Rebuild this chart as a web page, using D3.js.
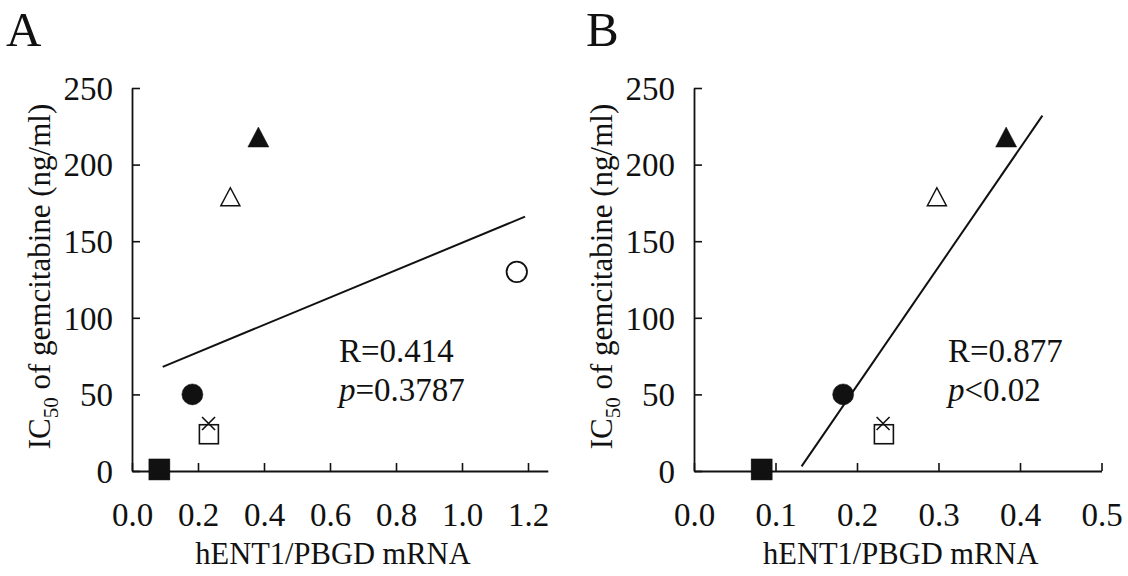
<!DOCTYPE html>
<html><head><meta charset="utf-8">
<script src="https://cdn.jsdelivr.net/npm/d3@7"></script>
<style>
html,body{margin:0;padding:0;background:#fff;}
svg{display:block;font-family:"Liberation Serif","Times New Roman",serif;}
</style></head>
<body>
<svg id="chart" width="1128" height="576"></svg>
<script>
// ---- data ----
const cellLines = ["filledSquare","filledCircle","cross","openSquare","openTriangle","filledTriangle","openCircle"];
const hent1 = [0.083, 0.183, 0.232, 0.233, 0.298, 0.383, 1.166];
const ic50 = [1, 50, 31, 24, 179, 218, 130];
const yTicks = [0, 50, 100, 150, 200, 250];
const xTicksA = [0.0, 0.2, 0.4, 0.6, 0.8, 1.0, 1.2];
const xTicksB = [0.0, 0.1, 0.2, 0.3, 0.4, 0.5];
const fitA_x = [0.093, 1.191];
const fitA_y = [68, 166];
const fitB_x = [0.132, 0.4275];
const fitB_y = [3, 232];
const statsA = ["R=0.414", "=0.3787"];
const statsB = ["R=0.877", "<0.02"];

const svg = d3.select("#chart");
const INK = "#111";
const FONT = "Liberation Serif";

function marker(g, type, cx, cy) {
  if (type === "filledSquare" || type === "openSquare") {
    const w = type === "filledSquare" ? 21 : 19;
    g.append("rect").attr("x", cx - w/2).attr("y", cy - w/2).attr("width", w).attr("height", w)
      .attr("fill", type === "filledSquare" ? INK : "none").attr("stroke", INK).attr("stroke-width", type === "filledSquare" ? 0.5 : 1.6);
  } else if (type === "filledCircle" || type === "openCircle") {
    const r = type === "filledCircle" ? 10.5 : 10.2;
    g.append("circle").attr("cx", cx).attr("cy", cy).attr("r", r)
      .attr("fill", type === "filledCircle" ? INK : "none").attr("stroke", INK).attr("stroke-width", type === "filledCircle" ? 0.5 : 1.8);
  } else if (type === "filledTriangle" || type === "openTriangle") {
    const w = type === "filledTriangle" ? 21 : 19, h = type === "filledTriangle" ? 20 : 18;
    const p = d3.path();
    p.moveTo(cx, cy - h/2); p.lineTo(cx + w/2, cy + h/2); p.lineTo(cx - w/2, cy + h/2); p.closePath();
    g.append("path").attr("d", p.toString())
      .attr("fill", type === "filledTriangle" ? INK : "none").attr("stroke", INK).attr("stroke-width", type === "filledTriangle" ? 0.5 : 1.5)
      .attr("stroke-linejoin", "miter");
  } else if (type === "cross") {
    const d = 6.5;
    g.append("path").attr("d", `M${cx-d},${cy-d}L${cx+d},${cy+d}M${cx+d},${cy-d}L${cx-d},${cy+d}`)
      .attr("stroke", INK).attr("stroke-width", 1.6).attr("fill", "none");
  }
}

function panel(opt) {
  const g = svg.append("g");
  const x = d3.scaleLinear().domain(opt.xDomain).range(opt.xRange);
  const y = d3.scaleLinear().domain([0, 250]).range([471, 88]);

  // axes
  const xAxis = d3.axisBottom(x).tickValues(opt.xTicks).tickSizeInner(-8).tickSizeOuter(0)
    .tickFormat(d3.format(".1f"));
  const gx = g.append("g").attr("transform", `translate(0,${y(0)})`).call(xAxis);
  gx.select(".domain").attr("stroke", INK).attr("stroke-width", 1.8);
  gx.selectAll(".tick line").attr("stroke", INK).attr("stroke-width", 1.6);
  gx.selectAll(".tick text").attr("y", 55).attr("dy", 0).attr("fill", INK)
    .style("font-size", "33px").style("font-family", FONT);

  const yAxis = d3.axisLeft(y).tickValues(yTicks).tickSizeInner(-8).tickSizeOuter(0);
  const gy = g.append("g").attr("transform", `translate(${opt.xRange[0]},0)`).call(yAxis);
  gy.select(".domain").attr("stroke", INK).attr("stroke-width", 1.8);
  gy.selectAll(".tick line").attr("stroke", INK).attr("stroke-width", 1.6);
  gy.selectAll(".tick text").attr("x", -19).attr("dy", "0.34em").attr("fill", INK)
    .style("font-size", "33px").style("font-family", FONT);

  // regression line
  g.append("line")
    .attr("x1", x(opt.fitX[0])).attr("y1", y(opt.fitY[0]))
    .attr("x2", x(opt.fitX[1])).attr("y2", y(opt.fitY[1]))
    .attr("stroke", INK).attr("stroke-width", 2);

  // markers
  cellLines.forEach((t, i) => {
    if (hent1[i] <= opt.xDomain[1]) marker(g, t, x(hent1[i]), y(ic50[i]));
  });

  // stats text
  g.append("text").attr("x", opt.statX).attr("y", 362).style("font-size", "33px").attr("fill", INK).text(opt.stats[0]);
  const t2 = g.append("text").attr("x", opt.statX).attr("y", 401).style("font-size", "33px").attr("fill", INK);
  t2.append("tspan").style("font-style", "italic").text("p");
  t2.append("tspan").text(opt.stats[1]);

  // axis titles
  const xm = (opt.xRange[0] + x(opt.xTicks[opt.xTicks.length - 1])) / 2;
  g.append("text").attr("x", xm + 3).attr("y", 564).attr("text-anchor", "middle")
    .style("font-size", "30.5px").attr("fill", INK).text("hENT1/PBGD mRNA");

  const yt = g.append("text").attr("transform", `translate(${opt.yTitleX},${(y(0)+y(250))/2 - 3}) rotate(-90)`)
    .attr("text-anchor", "middle").style("font-size", "31px").attr("fill", INK);
  yt.append("tspan").text("IC");
  yt.append("tspan").attr("dy", 8).style("font-size", "21px").text("50");
  yt.append("tspan").attr("dy", -8).text(" of gemcitabine (ng/ml)");

  // panel letter
  g.append("text").attr("x", opt.letterX).attr("y", 46).style("font-size", "49px").attr("fill", INK).text(opt.letter);
}

panel({ letter: "A", letterX: 6, xDomain: [0, 1.26], xRange: [132, 132 + 1.26 * 330], xTicks: xTicksA,
  fitX: fitA_x, fitY: fitA_y, stats: statsA, statX: 339, yTitleX: 50 });
panel({ letter: "B", letterX: 586, xDomain: [0, 0.5], xRange: [694, 1101.5], xTicks: xTicksB,
  fitX: fitB_x, fitY: fitB_y, stats: statsB, statX: 948, yTitleX: 612 });
</script>
</body></html>
